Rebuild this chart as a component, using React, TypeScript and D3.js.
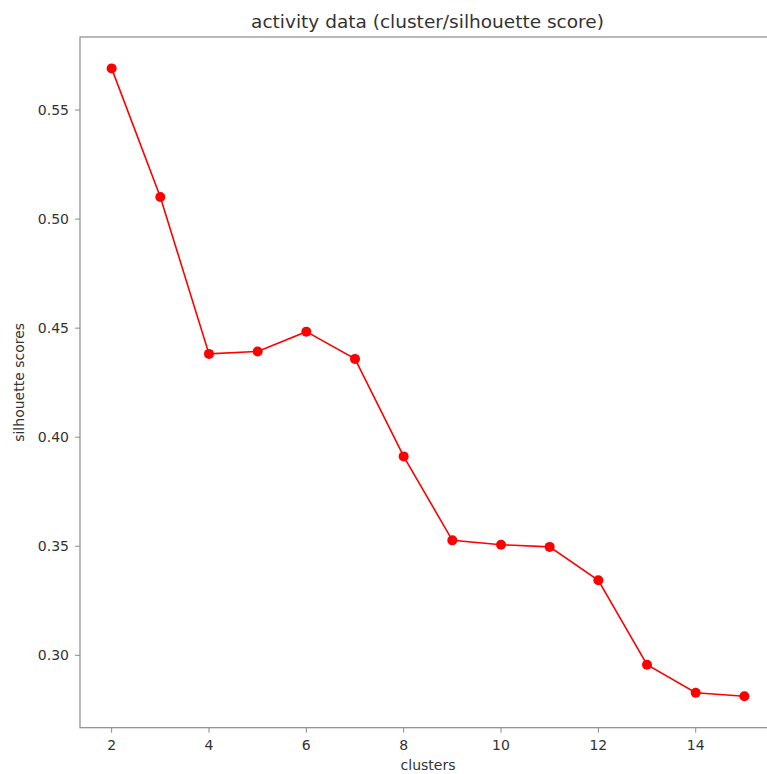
import React from "react";
import * as d3 from "d3";

const clusters = [2, 3, 4, 5, 6, 7, 8, 9, 10, 11, 12, 13, 14, 15];
const scores = [0.5691, 0.5101, 0.4382, 0.4393, 0.4484, 0.4359, 0.3912, 0.3527, 0.3507, 0.3497, 0.3344, 0.2957, 0.2828, 0.2812];
const xTicks = [2, 4, 6, 8, 10, 12, 14];
const yTicks = [0.3, 0.35, 0.4, 0.45, 0.5, 0.55];

const W = 767;
const H = 774;
const left = 80;
const right = 776;
const top = 37;
const bottom = 727.7;
const FONT = "DejaVu Sans, sans-serif";

export default function App() {
  const xMin = d3.min(clusters)!;
  const xMax = d3.max(clusters)!;
  const xPad = (xMax - xMin) * 0.05;
  const yMin = d3.min(scores)!;
  const yMax = d3.max(scores)!;
  const yPad = (yMax - yMin) * 0.05;
  const x = d3.scaleLinear().domain([xMin - xPad, xMax + xPad]).range([left, right]);
  const y = d3.scaleLinear().domain([yMin - yPad, yMax + yPad]).range([bottom, top]);
  const pts: [number, number][] = clusters.map((c, i) => [c, scores[i]]);
  const line = d3.line<[number, number]>().x((d) => x(d[0])).y((d) => y(d[1]));
  const spine = "#8a8a8a";
  const text = "#333";
  return (
    <svg width={W} height={H} style={{ position: "absolute", left: 0, top: 0, background: "#fff" }}>
      <rect x={0} y={0} width={W} height={H} fill="#fff" />
      <text x={427.5} y={28} textAnchor="middle" fontFamily={FONT} fontSize={18.5} fill={text}>
        activity data (cluster/silhouette score)
      </text>
      {/* spines */}
      <rect x={left} y={top} width={right - left} height={bottom - top} fill="none" stroke={spine} strokeWidth={1.2} />
      {/* y ticks */}
      {yTicks.map((t) => (
        <g key={"y" + t}>
          <line x1={left - 5} x2={left} y1={y(t)} y2={y(t)} stroke={spine} strokeWidth={1} />
          <text x={left - 11} y={y(t)} dy="0.36em" textAnchor="end" fontFamily={FONT} fontSize={14} fill={text}>
            {d3.format(".2f")(t)}
          </text>
        </g>
      ))}
      {/* x ticks */}
      {xTicks.map((t) => (
        <g key={"x" + t}>
          <line x1={x(t)} x2={x(t)} y1={bottom} y2={bottom + 5} stroke={spine} strokeWidth={1} />
          <text x={x(t)} y={bottom + 22.5} textAnchor="middle" fontFamily={FONT} fontSize={14} fill={text}>
            {t}
          </text>
        </g>
      ))}
      <text x={428} y={770} textAnchor="middle" fontFamily={FONT} fontSize={14} fill={text}>
        clusters
      </text>
      <text
        transform={`translate(24, ${(top + bottom) / 2}) rotate(-90)`}
        textAnchor="middle"
        fontFamily={FONT}
        fontSize={14}
        fill={text}
      >
        silhouette scores
      </text>
      <path d={line(pts) || ""} fill="none" stroke="#ff0000" strokeWidth={1.6} />
      {pts.map((p, i) => (
        <circle key={i} cx={x(p[0])} cy={y(p[1])} r={5} fill="#ff0000" />
      ))}
    </svg>
  );
}
